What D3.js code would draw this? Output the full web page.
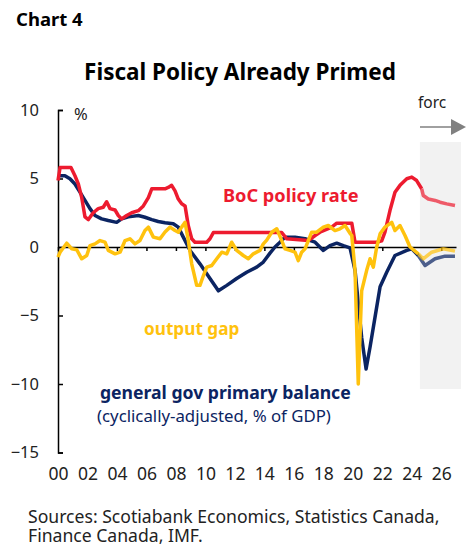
<!DOCTYPE html>
<html>
<head>
<meta charset="utf-8">
<script src="https://cdn.jsdelivr.net/npm/d3@7"></script>
<style>
body { margin: 0; background: #fff; }
text { font-family: "Noto Sans", sans-serif; }
</style>
</head>
<body>
<div id="chart"></div>
<script>
// values: [year, %]
var policyRate = [[2000.0,4.85],[2000.14,5.8],[2000.88,5.8],[2001.15,5.2],[2001.38,4.6],[2001.61,3.6],[2001.83,2.2],[2002.06,2.0],[2002.39,2.5],[2002.73,2.8],[2003.07,2.9],[2003.3,3.3],[2003.53,2.8],[2003.87,2.7],[2004.09,2.3],[2004.32,2.05],[2004.66,2.3],[2005.0,2.5],[2005.45,2.65],[2005.79,3.0],[2006.13,3.6],[2006.36,4.25],[2007.26,4.25],[2007.48,4.35],[2007.71,4.5],[2007.94,4.1],[2008.16,3.5],[2008.39,3.15],[2008.62,3.0],[2008.84,1.55],[2009.07,0.6],[2009.29,0.35],[2010.09,0.35],[2010.31,0.6],[2010.54,1.05],[2015.18,1.05],[2015.52,0.6],[2016.98,0.47],[2017.44,0.84],[2017.77,1.08],[2018.57,1.45],[2018.91,1.74],[2019.93,1.74],[2020.15,0.35],[2021.62,0.35],[2021.96,0.45],[2022.18,1.08],[2022.52,2.66],[2022.86,4.0],[2023.2,4.5],[2023.66,4.98],[2024.0,5.1],[2024.33,4.85],[2024.67,4.25]];
var policyRateFcst = [[2024.67,4.25],[2024.78,3.76],[2025.12,3.5],[2025.58,3.4],[2025.92,3.27],[2026.37,3.15],[2026.93,3.03]];

var primaryBal = [[2000.0,5.2],[2000.47,5.2],[2000.81,4.98],[2001.15,4.6],[2001.49,4.0],[2001.83,3.4],[2002.17,2.8],[2002.51,2.3],[2002.96,2.05],[2003.41,1.93],[2003.98,1.8],[2004.32,2.05],[2004.77,2.2],[2005.45,2.3],[2005.9,2.17],[2006.36,2.0],[2006.8,1.86],[2007.26,1.77],[2007.82,1.7],[2008.16,1.45],[2008.5,0.72],[2008.96,-0.25],[2009.63,-1.23],[2010.31,-2.3],[2010.88,-3.2],[2011.45,-2.8],[2012.12,-2.3],[2012.8,-1.84],[2013.48,-1.47],[2013.93,-1.1],[2014.38,-0.45],[2014.72,0.0],[2015.06,0.35],[2015.4,0.72],[2016.08,0.72],[2016.76,0.6],[2017.44,0.35],[2018.0,-0.25],[2018.45,0.1],[2018.91,0.28],[2019.36,0.1],[2019.81,-0.06],[2020.15,-1.7],[2020.37,-4.1],[2020.6,-6.6],[2020.9,-8.9],[2021.17,-7.3],[2021.51,-5.1],[2021.85,-2.9],[2022.3,-1.84],[2022.86,-0.62],[2023.66,-0.25],[2024.0,-0.13],[2024.44,-0.62]];
var primaryBalFcst = [[2024.44,-0.62],[2024.9,-1.35],[2025.58,-0.86],[2026.26,-0.67],[2026.93,-0.67]];

var outputGap = [[2000.0,-0.74],[2000.14,-0.38],[2000.59,0.28],[2000.93,-0.13],[2001.27,-0.2],[2001.61,-0.86],[2001.95,-0.62],[2002.17,0.1],[2002.51,0.23],[2002.85,0.47],[2003.19,0.35],[2003.41,-0.25],[2003.87,-0.5],[2004.21,-0.38],[2004.55,0.47],[2004.88,0.6],[2005.22,0.23],[2005.56,0.47],[2005.9,1.2],[2006.13,1.45],[2006.47,0.72],[2006.92,0.6],[2007.26,1.1],[2007.6,1.45],[2007.94,1.2],[2008.16,1.08],[2008.39,1.45],[2008.62,1.8],[2008.84,0.47],[2009.07,-1.23],[2009.41,-2.8],[2009.63,-2.8],[2009.86,-2.1],[2010.09,-1.47],[2010.43,-1.35],[2010.77,-0.86],[2011.11,-0.38],[2011.45,-0.5],[2011.78,0.35],[2012.12,-0.25],[2012.57,-0.62],[2012.91,-0.86],[2013.25,-0.5],[2013.7,-0.25],[2013.93,0.23],[2014.16,0.5],[2014.5,1.08],[2014.84,1.33],[2015.18,0.47],[2015.4,-0.13],[2015.74,-0.25],[2016.08,-0.38],[2016.3,-1.0],[2016.53,-0.38],[2016.76,-0.13],[2016.98,0.47],[2017.21,1.08],[2017.55,1.08],[2018.0,1.45],[2018.34,1.57],[2018.79,1.2],[2019.13,1.33],[2019.47,1.57],[2019.81,1.0],[2019.93,0.84],[2020.15,-1.7],[2020.37,-10.0],[2020.6,-3.2],[2020.94,-1.7],[2021.17,-0.86],[2021.39,-1.47],[2021.62,0.0],[2021.85,0.96],[2022.18,1.45],[2022.64,1.8],[2022.86,1.2],[2023.2,1.57],[2023.54,0.84],[2023.88,0.0],[2024.44,-0.5]];
var outputGapFcst = [[2024.44,-0.5],[2024.78,-0.86],[2025.35,-0.38],[2026.14,-0.13],[2026.93,-0.3]];

var yTicks = [10, 5, 0, -5, -10, -15];
var xTicks = d3.range(2000, 2027, 2);
var forecastStart = 2024.55;

var width = 472, height = 546;
var red = "#ED1B2F", navy = "#0B2462", gold = "#FFC20E";

var xScale = d3.scaleLinear().domain([2000, 2027]).range([58, 456]);
var yScale = d3.scaleLinear().domain([-15, 10]).range([452.5, 110]);

var svg = d3.select("#chart").append("svg")
    .attr("width", width)
    .attr("height", height);

svg.append("rect").attr("width", width).attr("height", height).attr("fill", "#fff");

// forecast shading
svg.append("rect")
    .attr("x", xScale(forecastStart))
    .attr("y", 142)
    .attr("width", 461 - xScale(forecastStart))
    .attr("height", 247)
    .attr("fill", "#F2F2F2");

svg.append("text")
    .attr("x", 418).attr("y", 108)
    .attr("font-size", 15.5).attr("fill", "#222")
    .text("forc");

svg.append("line")
    .attr("x1", 420).attr("x2", 452).attr("y1", 127).attr("y2", 127)
    .attr("stroke", "#808080").attr("stroke-width", 1.5);
svg.append("path")
    .attr("d", "M451,119L466,127L451,135Z")
    .attr("fill", "#808080");

// titles
svg.append("text")
    .attr("x", 16).attr("y", 26)
    .attr("font-size", 18.5).attr("font-weight", "bold")
    .text("Chart 4");

svg.append("text")
    .attr("x", 240).attr("y", 80)
    .attr("text-anchor", "middle")
    .attr("font-size", 22.5).attr("font-weight", "bold")
    .text("Fiscal Policy Already Primed");

// y axis
var yAxis = svg.append("g")
    .attr("transform", "translate(58,0)")
    .call(d3.axisLeft(yScale).tickValues(yTicks).tickSize(-5).tickPadding(19).tickFormat(d3.format("d")));
yAxis.selectAll("path, line").attr("stroke", "#000").attr("stroke-width", 1.5);
yAxis.selectAll("text").attr("font-size", 16.5).attr("fill", "#222")
    .style("font-family", "Noto Sans, sans-serif");

svg.append("text")
    .attr("x", 74).attr("y", 120)
    .attr("font-size", 16.5).attr("fill", "#222")
    .text("%");

// zero line with ticks
var xAxis = svg.append("g")
    .attr("transform", "translate(0," + yScale(0) + ")")
    .call(d3.axisBottom(xScale).tickValues(xTicks).tickSize(4).tickSizeOuter(0).tickFormat(""));
xAxis.selectAll("path, line").attr("stroke", "#000").attr("stroke-width", 1.5);

// x labels
var xLabels = svg.append("g")
    .attr("transform", "translate(0,468)")
    .call(d3.axisBottom(xScale).tickValues(xTicks).tickSize(0).tickPadding(0)
        .tickFormat(d => d3.format("02d")(d % 100)));
xLabels.select(".domain").remove();
xLabels.selectAll("text").attr("font-size", 17.5).attr("fill", "#222")
    .style("font-family", "Noto Sans, sans-serif");

// lines
var line = d3.line()
    .x(d => xScale(d[0]))
    .y(d => yScale(d[1]));

function drawLine(data, color, opacity) {
    svg.append("path")
        .datum(data)
        .attr("d", line)
        .attr("fill", "none")
        .attr("stroke", color)
        .attr("stroke-width", 3.5)
        .attr("stroke-linejoin", "round")
        .attr("opacity", opacity);
}

drawLine(primaryBal, navy, 1);
drawLine(primaryBalFcst, navy, 0.72);
drawLine(policyRate, red, 1);
drawLine(policyRateFcst, red, 0.7);
drawLine(outputGap, gold, 1);
drawLine(outputGapFcst, gold, 0.72);

// series labels
svg.append("text")
    .attr("x", 223).attr("y", 202)
    .attr("font-size", 18.2).attr("font-weight", "bold").attr("fill", red)
    .text("BoC policy rate");

svg.append("text")
    .attr("x", 144).attr("y", 335)
    .attr("font-size", 17.2).attr("font-weight", "bold").attr("fill", gold)
    .text("output gap");

svg.append("text")
    .attr("x", 100).attr("y", 399)
    .attr("font-size", 17.6).attr("font-weight", "bold").attr("fill", navy)
    .text("general gov primary balance");

svg.append("text")
    .attr("x", 97).attr("y", 422)
    .attr("font-size", 16.8).attr("fill", navy)
    .text("(cyclically-adjusted, % of GDP)");

// sources
svg.append("text")
    .attr("x", 28).attr("y", 523)
    .attr("font-size", 17.6).attr("fill", "#222")
    .text("Sources: Scotiabank Economics, Statistics Canada,");
svg.append("text")
    .attr("x", 28).attr("y", 542)
    .attr("font-size", 17.6).attr("fill", "#222")
    .text("Finance Canada, IMF.");
</script>
</body>
</html>
